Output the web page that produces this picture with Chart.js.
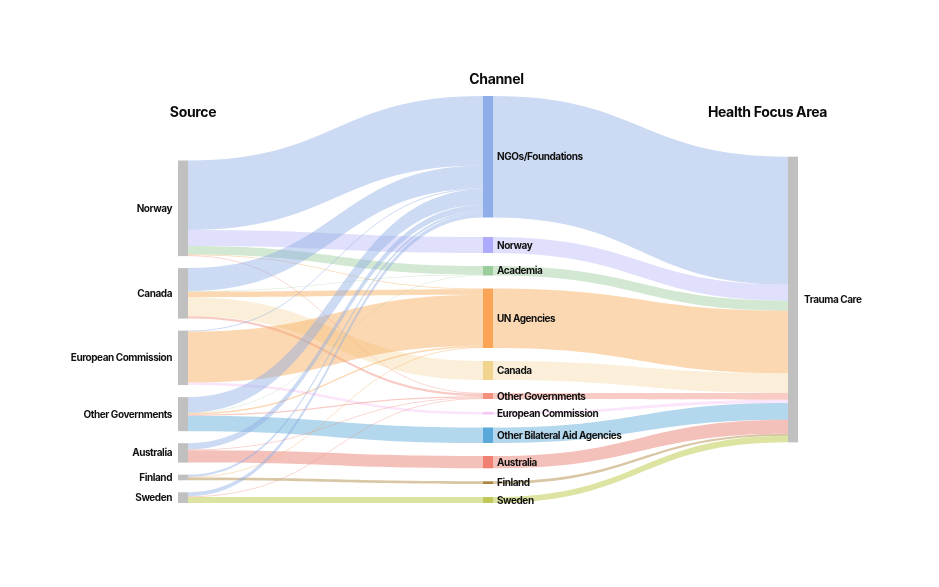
<!DOCTYPE html>
<html>
<head>
<meta charset="utf-8">
<script src="https://cdn.jsdelivr.net/npm/chart.js@4.4.1/dist/chart.umd.min.js"></script>
<style>
  html, body { margin: 0; padding: 0; background: #fff; }
  #wrap { width: 939px; height: 587px; position: relative; }
</style>
</head>
<body>
<div id="wrap"><canvas id="sankey"></canvas></div>
<script>
// Node names, one list per column
const sources = ['Norway', 'Canada', 'European Commission', 'Other Governments', 'Australia', 'Finland', 'Sweden'];
const channels = ['NGOs/Foundations', 'Norway', 'Academia', 'UN Agencies', 'Canada', 'Other Governments',
    'European Commission', 'Other Bilateral Aid Agencies', 'Australia', 'Finland', 'Sweden'];
const focusAreas = ['Trauma Care'];
const columnTitles = ['Source', 'Channel', 'Health Focus Area'];

// Source -> Channel flows (rows = sources, columns = channels, 0 = no flow)
const sourceToChannel = [
    // NGOs  Nor  Acad  UN   Can  OGov  EC   OBAA  Aus  Fin  Swe
    [69.5, 16,  8.5, 0.8,  0,  0.8,  0,   0,    0,   0,   0],   // Norway
    [23,    0,  0.6, 5.5, 19,  2.4,  0,   0,    0,   0,   0],   // Canada
    [1,     0,  0,   51,   0,  0,    2.5, 0,    0,   0,   0],   // European Commission
    [15.5,  0,  0.4, 1.5,  0,  1.2,  0,   15.5, 0,   0,   0],   // Other Governments
    [6.2,   0,  0,   0,    0,  0.9,  0,   0,    12.3, 0,  0],   // Australia
    [2.3,   0,  0,   0.7,  0,  0,    0,   0,    0,   2.7, 0],   // Finland
    [4,     0,  0,   0,    0,  0.7,  0,   0,    0,   0,   6]    // Sweden
];

// Channel -> Trauma Care flows
const channelToFocus = [128, 16, 10, 62.6, 19.7, 6.7, 3.3, 16.7, 14, 2, 6.7];

// Colours
const channelColors = ['#8faee9', '#ababf9', '#9bcc9b', '#f9a555', '#f2d491', '#f5907f',
    '#f7c6f7', '#5ba8db', '#ef8072', '#ad8645', '#c2c95a'];
const channelLinkColors = ['rgba(142,173,228,0.45)', 'rgba(186,186,248,0.45)', 'rgba(157,204,157,0.45)',
    'rgba(246,168,84,0.45)', 'rgba(246,219,171,0.45)', 'rgba(239,139,126,0.45)', 'rgba(246,197,246,0.45)',
    'rgba(86,166,213,0.45)', 'rgba(231,117,102,0.45)', 'rgba(168,128,53,0.45)', 'rgba(179,193,44,0.45)'];
const greyNode = '#c0c0c0';

// Layout settings
const nodeWidth = 10;
const columnPadding = [12, 13, 12];
// 'end' = stacked against the bottom, 'spread' = first node at top, rest against bottom
const columnAlign = ['end', 'spread', 'center'];
const labelFont = 'bold 10px Inter, "Noto Sans", sans-serif';
const labelSpacing = '-0.45px';
const titleFont = 'bold 14px Inter, "Noto Sans", sans-serif';
const titleSpacing = '-0.35px';
const titleOffsets = [{ dx: 10, y: 112 }, { dx: 8.5, y: 79 }, { dx: -25.5, y: 112 }];

// Build nodes and links
const nodes = [];
const columns = [[], [], []];
function addNode(name, col, color) {
    const n = { name, col, color, inLinks: [], outLinks: [], inValue: 0, outValue: 0 };
    nodes.push(n);
    columns[col].push(n);
    return n;
}
const srcNodes = sources.map(s => addNode(s, 0, greyNode));
const chNodes = channels.map((c, i) => addNode(c, 1, channelColors[i]));
const faNodes = focusAreas.map(f => addNode(f, 2, greyNode));

const links = [];
function addLink(s, t, value, color) {
    const l = { s, t, value, color };
    links.push(l);
    s.outLinks.push(l); s.outValue += value;
    t.inLinks.push(l); t.inValue += value;
}
sourceToChannel.forEach((row, i) => {
    row.forEach((v, j) => { if (v > 0) addLink(srcNodes[i], chNodes[j], v, channelLinkColors[j]); });
});
channelToFocus.forEach((v, j) => addLink(chNodes[j], faNodes[0], v, channelLinkColors[j]));

// Stack nodes in value units along the y scale
function layoutSankey(yMax) {
    columns.forEach((col, c) => {
        col.forEach(n => { n.size = n.inValue > 0 ? n.inValue : n.outValue; });
        const pad = columnPadding[c];
        const sum = col.reduce((a, n) => a + n.size, 0);
        const span = sum + (col.length - 1) * pad;
        let y = 0;
        if (columnAlign[c] === 'end') y = yMax - span;
        else if (columnAlign[c] === 'center') y = (yMax - span) / 2;
        // place from the bottom up so the last node meets the axis end
        if (columnAlign[c] === 'spread') {
            let yb = yMax;
            for (let i = col.length - 1; i > 0; i--) {
                col[i].y1 = yb; col[i].y0 = yb - col[i].size; yb = col[i].y0 - pad;
            }
            col[0].y0 = 0; col[0].y1 = col[0].size;
        } else {
            col.forEach(n => { n.y0 = y; n.y1 = y + n.size; y = n.y1 + pad; });
        }
    });
    nodes.forEach(n => {
        let off = n.y0;
        n.outLinks.slice().sort((a, b) => a.t.y0 - b.t.y0).forEach(l => {
            l.sy0 = off; off += l.value / n.outValue * n.size; l.sy1 = off;
        });
        off = n.y0;
        n.inLinks.slice().sort((a, b) => a.s.y0 - b.s.y0).forEach(l => {
            l.ty0 = off; off += l.value / n.inValue * n.size; l.ty1 = off;
        });
    });
}

const yMax = 407;
layoutSankey(yMax);

const sankeyPlugin = {
    id: 'sankeyDraw',
    afterDatasetsDraw(chart) {
        const ctx = chart.ctx;
        const xs = chart.scales.x, ys = chart.scales.y;
        ctx.save();

        // flows
        links.forEach(l => {
            const x0 = xs.getPixelForValue(l.s.col) + nodeWidth / 2;
            const x1 = xs.getPixelForValue(l.t.col) - nodeWidth / 2;
            const xm = (x0 + x1) / 2;
            const a0 = ys.getPixelForValue(l.sy0), a1 = ys.getPixelForValue(l.sy1);
            const b0 = ys.getPixelForValue(l.ty0), b1 = ys.getPixelForValue(l.ty1);
            ctx.beginPath();
            ctx.moveTo(x0, a0);
            ctx.bezierCurveTo(xm, a0, xm, b0, x1, b0);
            ctx.lineTo(x1, b1);
            ctx.bezierCurveTo(xm, b1, xm, a1, x0, a1);
            ctx.closePath();
            ctx.fillStyle = l.color;
            ctx.fill();
        });

        // nodes + labels
        ctx.font = labelFont;
        ctx.letterSpacing = labelSpacing;
        ctx.textBaseline = 'middle';
        nodes.forEach(n => {
            const xc = xs.getPixelForValue(n.col);
            const top = ys.getPixelForValue(n.y0), bot = ys.getPixelForValue(n.y1);
            ctx.fillStyle = n.color;
            ctx.fillRect(xc - nodeWidth / 2, top, nodeWidth, bot - top);
            ctx.fillStyle = '#111';
            const ym = (top + bot) / 2 + 0.5;
            if (n.col === 0) {
                ctx.textAlign = 'right';
                ctx.fillText(n.name, xc - nodeWidth / 2 - 6, ym);
            } else if (n.col === 1) {
                ctx.textAlign = 'left';
                ctx.fillText(n.name, xc + nodeWidth / 2 + 4, ym);
            } else {
                ctx.textAlign = 'left';
                ctx.fillText(n.name, xc + nodeWidth / 2 + 6, ym);
            }
        });

        // column titles
        ctx.font = titleFont;
        ctx.letterSpacing = titleSpacing;
        ctx.textAlign = 'center';
        ctx.fillStyle = '#0a0a0a';
        columnTitles.forEach((t, c) => {
            ctx.fillText(t, xs.getPixelForValue(c) + titleOffsets[c].dx, titleOffsets[c].y + 1);
        });
        ctx.restore();
    }
};

new Chart(document.getElementById('sankey'), {
    type: 'scatter',
    data: { datasets: [] },
    options: {
        responsive: true,
        maintainAspectRatio: false,
        animation: false,
        layout: { padding: { left: 183, right: 146, top: 96, bottom: 84 } },
        scales: {
            x: { type: 'linear', min: 0, max: 2, display: false },
            y: { type: 'linear', min: 0, max: yMax, reverse: true, display: false }
        },
        plugins: { legend: { display: false }, tooltip: { enabled: false } }
    },
    plugins: [sankeyPlugin]
});
</script>
</body>
</html>
